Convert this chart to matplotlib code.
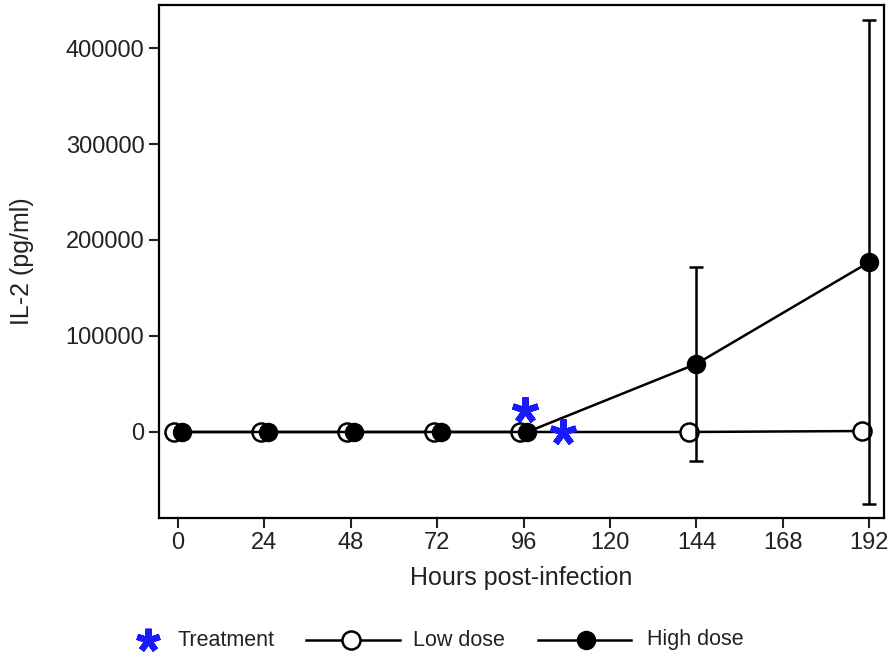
import numpy as np
import matplotlib
matplotlib.use("Agg")
import matplotlib.pyplot as plt
from matplotlib.lines import Line2D

# data
low_hours = [-1, 23, 47, 71, 95, 142, 190]
low_il2 = [0, 0, 0, 0, 0, 0, 1000]
high_hours = [1, 25, 49, 73, 97, 144, 192]
high_il2 = [0, 0, 0, 0, 0, 71000, 177000]
high_err = [0, 0, 0, 0, 0, 101000, 252000]
treat_hours = [96.5, 107]
treat_y = [23000, 0]
xticks = [0, 24, 48, 72, 96, 120, 144, 168, 192]
yticks = [0, 100000, 200000, 300000, 400000]
legend_labels = ['Treatment', 'Low dose', 'High dose']

plt.rcParams['font.family'] = ['Liberation Sans', 'DejaVu Sans']
W, H = 890, 659
BLUE = '#1a1aff'
TXT = '#222222'

fig = plt.figure(figsize=(W / 100, H / 100), dpi=100)
ax = fig.add_axes([159 / W, 1 - 518 / H, 725 / W, 513 / H])

ax.plot(low_hours, low_il2, color='black', lw=1.8, marker='o', ms=13,
        mfc='white', mec='black', mew=1.8, zorder=3)
ax.errorbar(high_hours, high_il2, yerr=high_err, color='black', lw=1.8,
            marker='o', ms=13, mfc='black', mec='black', capsize=5,
            capthick=1.8, elinewidth=1.8, zorder=4)
ax.plot(treat_hours, treat_y, ls='none', marker=(5, 2, 0), ms=19,
        mew=4.5, color=BLUE, zorder=5)

ax.set_xlim(-5.3, 196.1)
ax.set_ylim(-89600, 444800)
ax.set_xticks(xticks)
ax.set_yticks(yticks)
ax.set_yticklabels([str(v) for v in yticks])
ax.tick_params(direction='out', length=7, width=1.5, labelsize=17, colors=TXT)
ax.tick_params(axis='x', pad=3)
for s in ax.spines.values():
    s.set_linewidth(1.6)

ax.set_xlabel('Hours post-infection', fontsize=18, color=TXT)
ax.set_ylabel('IL-2 (pg/ml)', fontsize=18, color=TXT)
ax.xaxis.set_label_coords(0.5, (518 - 578) / 513)
ax.yaxis.set_label_coords((22 - 159) / 725, 0.5)
ax.xaxis.label.set_va('center')
ax.yaxis.label.set_va('center')

# legend row under the plot, built by hand
def fx(px):
    return px / W

def fy(py):
    return 1 - py / H

ly = 640
fig.add_artist(Line2D([fx(148)], [fy(ly)], ls='none', marker=(5, 2, 0), ms=17,
                      mew=4.5, color=BLUE, transform=fig.transFigure))
fig.add_artist(Line2D([fx(306), fx(400)], [fy(ly), fy(ly)], color='black', lw=1.8,
                      transform=fig.transFigure))
fig.add_artist(Line2D([fx(351)], [fy(ly)], ls='none', marker='o', ms=13, mfc='white',
                      mec='black', mew=1.8, transform=fig.transFigure))
fig.add_artist(Line2D([fx(538), fx(631)], [fy(ly), fy(ly)], color='black', lw=1.8,
                      transform=fig.transFigure))
fig.add_artist(Line2D([fx(586)], [fy(ly)], ls='none', marker='o', ms=13, mfc='black',
                      mec='black', transform=fig.transFigure))
for xpos, lab in zip([177, 413, 647], legend_labels):
    fig.text(fx(xpos), fy(ly), lab, fontsize=15.5, color=TXT, ha='left', va='center')

fig.savefig('out.png', dpi=100)
